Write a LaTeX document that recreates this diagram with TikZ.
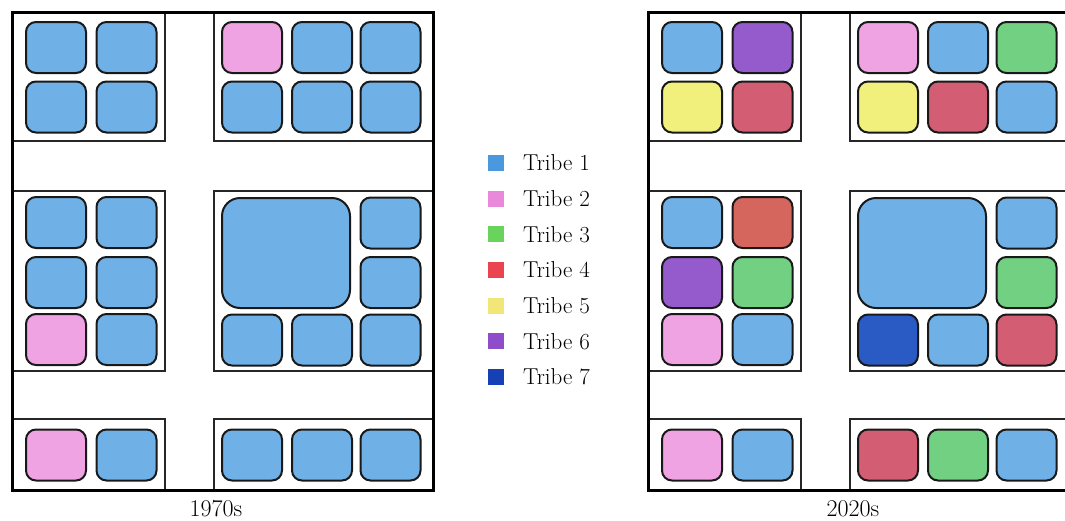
\documentclass[tikz,border=0pt]{standalone}
\begin{document}
\definecolor{cblue}{HTML}{6FB0E6}
\definecolor{cpink}{HTML}{EFA3E2}
\definecolor{cgreen}{HTML}{72D083}
\definecolor{ccrim}{HTML}{D35E73}
\definecolor{cyell}{HTML}{F2F07C}
\definecolor{cpurp}{HTML}{955BCC}
\definecolor{ctom}{HTML}{D4665D}
\definecolor{cdark}{HTML}{2A5BC4}
\definecolor{lone}{HTML}{4A98E0}
\definecolor{ltwo}{HTML}{EA88D9}
\definecolor{lthree}{HTML}{6AD35E}
\definecolor{lfour}{HTML}{EA4450}
\definecolor{lfive}{HTML}{F3E679}
\definecolor{lsix}{HTML}{8E4DC9}
\definecolor{lseven}{HTML}{1541B5}
\begin{tikzpicture}[x=1pt,y=-1pt,
  cell/.style={draw=black!90, line width=2pt, rounded corners=10pt, inner sep=0pt,
    minimum width=60pt, minimum height=51pt},
  bigcell/.style={cell, minimum width=128pt, minimum height=110pt, rounded corners=18pt},
  blockline/.style={draw=black!85, line width=1.5pt},
  outerline/.style={draw=black, line width=3pt},
  legsq/.style={minimum size=16pt, inner sep=0pt},
  legtxt/.style={anchor=west, inner sep=0pt, font=\fontsize{23}{26}\selectfont},
  maplabel/.style={font=\fontsize{24}{28}\selectfont, inner sep=0pt}]
\useasboundingbox (0,0) rectangle (1065,520);
\clip (0,0) rectangle (1065,520);

% ---------- 1970s map ----------
\begin{scope}[name prefix=A-]
  \draw[blockline] (12,12) rectangle (165,141);
  \draw[blockline] (214,12) rectangle (433,141);
  \draw[blockline] (12,191) rectangle (165,371);
  \draw[blockline] (214,191) rectangle (433,371);
  \draw[blockline] (12,419) rectangle (165,490);
  \draw[blockline] (214,419) rectangle (433,490);
  \draw[outerline] (12,12) rectangle (433,490);
  % top-left block
  \node[cell, fill=cblue] (a1) at (56,47.5) {};
  \node[cell, fill=cblue] (a2) at (126.5,47.5) {};
  \node[cell, fill=cblue] (a3) at (56,107) {};
  \node[cell, fill=cblue] (a4) at (126.5,107) {};
  % top-right block
  \node[cell, fill=cpink] (b1) at (252,47.5) {};
  \node[cell, fill=cblue] (b2) at (322,47.5) {};
  \node[cell, fill=cblue] (b3) at (390.5,47.5) {};
  \node[cell, fill=cblue] (b4) at (252,107) {};
  \node[cell, fill=cblue] (b5) at (322,107) {};
  \node[cell, fill=cblue] (b6) at (390.5,107) {};
  % middle-left block
  \node[cell, fill=cblue] (c1) at (56,222.5) {};
  \node[cell, fill=cblue] (c2) at (126.5,222.5) {};
  \node[cell, fill=cblue] (c3) at (56,282.5) {};
  \node[cell, fill=cblue] (c4) at (126.5,282.5) {};
  \node[cell, fill=cpink] (c5) at (56,339.5) {};
  \node[cell, fill=cblue] (c6) at (126.5,339.5) {};
  % middle-right block
  \node[bigcell, fill=cblue] (d0) at (286,253) {};
  \node[cell, fill=cblue] (d1) at (390.5,223) {};
  \node[cell, fill=cblue] (d2) at (390.5,282.5) {};
  \node[cell, fill=cblue] (d3) at (252,340) {};
  \node[cell, fill=cblue] (d4) at (322,340) {};
  \node[cell, fill=cblue] (d5) at (390.5,340) {};
  % bottom blocks
  \node[cell, fill=cpink] (e1) at (56,455) {};
  \node[cell, fill=cblue] (e2) at (126.5,455) {};
  \node[cell, fill=cblue] (f1) at (252,455) {};
  \node[cell, fill=cblue] (f2) at (322,455) {};
  \node[cell, fill=cblue] (f3) at (390.5,455) {};
  \node[maplabel] (lab) at (216,509) {1970s};
\end{scope}

% ---------- 2020s map ----------
\begin{scope}[name prefix=B-, xshift=636pt]
  \draw[blockline] (12,12) rectangle (165,141);
  \draw[blockline] (214,12) rectangle (433,141);
  \draw[blockline] (12,191) rectangle (165,371);
  \draw[blockline] (214,191) rectangle (433,371);
  \draw[blockline] (12,419) rectangle (165,490);
  \draw[blockline] (214,419) rectangle (433,490);
  \draw[outerline] (12,12) rectangle (433,490);
  % top-left block
  \node[cell, fill=cblue] (a1) at (56,47.5) {};
  \node[cell, fill=cpurp] (a2) at (126.5,47.5) {};
  \node[cell, fill=cyell] (a3) at (56,107) {};
  \node[cell, fill=ccrim] (a4) at (126.5,107) {};
  % top-right block
  \node[cell, fill=cpink] (b1) at (252,47.5) {};
  \node[cell, fill=cblue] (b2) at (322,47.5) {};
  \node[cell, fill=cgreen] (b3) at (390.5,47.5) {};
  \node[cell, fill=cyell] (b4) at (252,107) {};
  \node[cell, fill=ccrim] (b5) at (322,107) {};
  \node[cell, fill=cblue] (b6) at (390.5,107) {};
  % middle-left block
  \node[cell, fill=cblue] (c1) at (56,222.5) {};
  \node[cell, fill=ctom] (c2) at (126.5,222.5) {};
  \node[cell, fill=cpurp] (c3) at (56,282.5) {};
  \node[cell, fill=cgreen] (c4) at (126.5,282.5) {};
  \node[cell, fill=cpink] (c5) at (56,339.5) {};
  \node[cell, fill=cblue] (c6) at (126.5,339.5) {};
  % middle-right block
  \node[bigcell, fill=cblue] (d0) at (286,253) {};
  \node[cell, fill=cblue] (d1) at (390.5,223) {};
  \node[cell, fill=cgreen] (d2) at (390.5,282.5) {};
  \node[cell, fill=cdark] (d3) at (252,340) {};
  \node[cell, fill=cblue] (d4) at (322,340) {};
  \node[cell, fill=ccrim] (d5) at (390.5,340) {};
  % bottom blocks
  \node[cell, fill=cpink] (e1) at (56,455) {};
  \node[cell, fill=cblue] (e2) at (126.5,455) {};
  \node[cell, fill=ccrim] (f1) at (252,455) {};
  \node[cell, fill=cgreen] (f2) at (322,455) {};
  \node[cell, fill=cblue] (f3) at (390.5,455) {};
  \node[maplabel] (lab) at (217,509) {2020s};
\end{scope}

% ---------- legend ----------
\node[legsq, fill=lone]   (s1) at (496,163) {};
\node[legsq, fill=ltwo]   (s2) at (496,198.7) {};
\node[legsq, fill=lthree] (s3) at (496,234.4) {};
\node[legsq, fill=lfour]  (s4) at (496,270) {};
\node[legsq, fill=lfive]  (s5) at (496,305.7) {};
\node[legsq, fill=lsix]   (s6) at (496,341.4) {};
\node[legsq, fill=lseven] (s7) at (496,377) {};
\node[legtxt] (t1) at (523,163) {Tribe 1};
\node[legtxt] (t2) at (523,198.7) {Tribe 2};
\node[legtxt] (t3) at (523,234.4) {Tribe 3};
\node[legtxt] (t4) at (523,270) {Tribe 4};
\node[legtxt] (t5) at (523,305.7) {Tribe 5};
\node[legtxt] (t6) at (523,341.4) {Tribe 6};
\node[legtxt] (t7) at (523,377) {Tribe 7};
\end{tikzpicture}
\end{document}
